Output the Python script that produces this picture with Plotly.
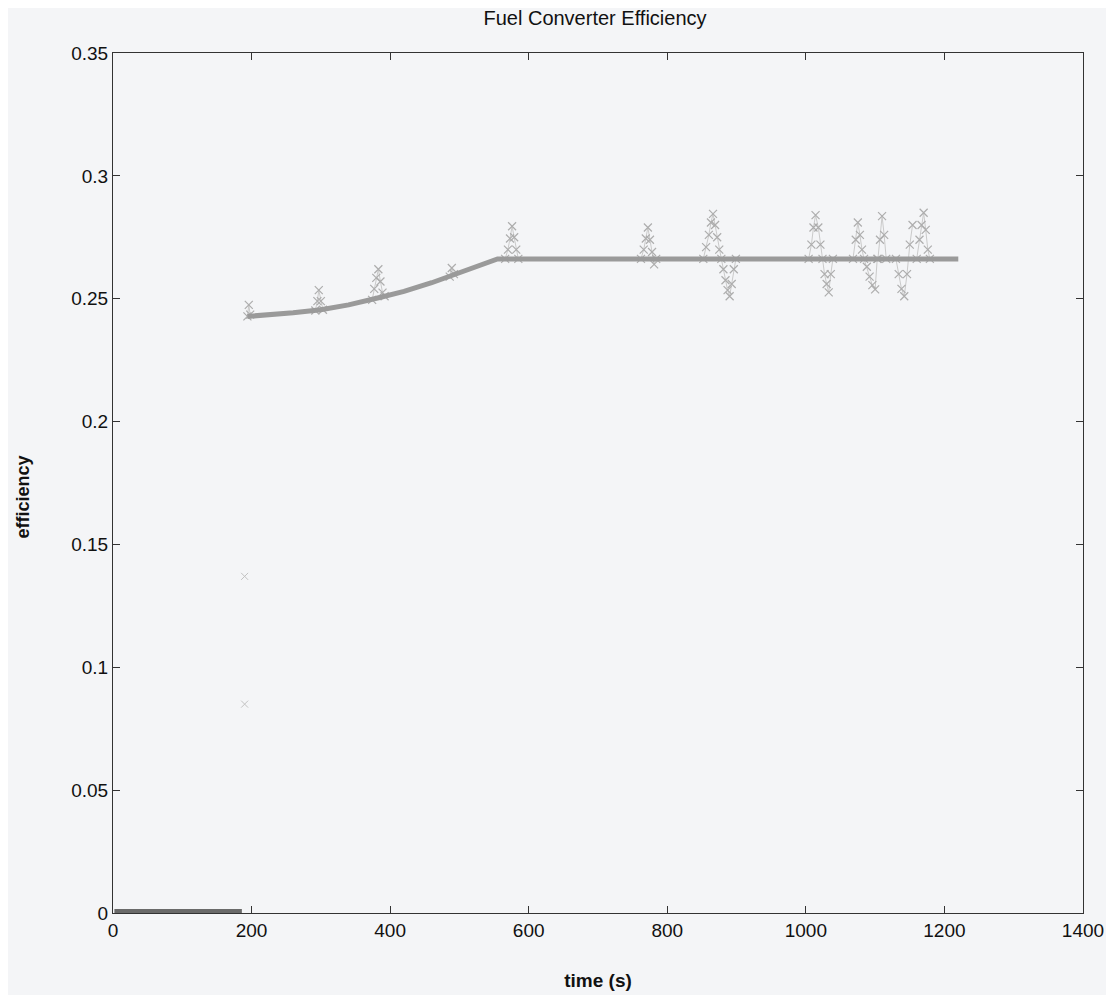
import plotly.graph_objects as go

# ---- data ----
# engine-off segment (efficiency ~ 0)
t_off = [2, 30, 60, 100, 140, 186]
eff_off = [0.0008, 0.0008, 0.0008, 0.0008, 0.0008, 0.0008]

# transition samples at engine start
t_jump = [190, 190]
eff_jump = [0.137, 0.085]

# main efficiency band
t_main = [194, 230, 260, 300, 340, 385, 420, 460, 490, 520, 545, 555,
          600, 700, 800, 900, 1000, 1100, 1150, 1220]
eff_main = [0.2428, 0.2435, 0.2443, 0.2455, 0.2475, 0.2505, 0.2530, 0.2565,
            0.2595, 0.2625, 0.2655, 0.2662,
            0.2662, 0.2662, 0.2662, 0.2662, 0.2662, 0.2662, 0.2662, 0.2662]

# transient spikes (separate bursts, None = gap)
t_spk = [194, 196, 198, None,
         292, 295, 297, 300, 303, None,
         374, 377, 380, 383, 386, 389, 392, None,
         486, 489, 492, None,
         566, 570, 573, 576, 579, 582, 585, None,
         762, 766, 769, 772, 775, 778, 781, 784, None,
         852, 856, 860, 863, 866, 869, 872, 875, 878, 881, 884, 887, 890, 893, 896, 899, None,
         1004, 1008, 1011, 1014, 1018, 1021, 1024, 1027, 1030, 1033, 1036, 1039, None,
         1068, 1072, 1075, 1078, 1081, 1084, 1088, 1092, 1096, 1100, 1103, None,
         1104, 1107, 1110, 1113, 1116, None,
         1130, 1134, 1138, 1142, 1146, 1150, 1154, None,
         1160, 1164, 1167, 1170, 1173, 1176, 1179]
eff_spk = [0.2428, 0.2475, 0.2435, None,
           0.2452, 0.2490, 0.2535, 0.2490, 0.2455, None,
           0.2495, 0.2540, 0.2585, 0.2620, 0.2570, 0.2525, 0.2510, None,
           0.2590, 0.2625, 0.2600, None,
           0.2662, 0.2700, 0.2745, 0.2795, 0.2750, 0.2700, 0.2662, None,
           0.2662, 0.2700, 0.2745, 0.2790, 0.2740, 0.2690, 0.2640, 0.2662, None,
           0.2662, 0.2710, 0.2760, 0.2810, 0.2845, 0.2800, 0.2750, 0.2700, 0.2662, 0.2620, 0.2575, 0.2535, 0.2510, 0.2560, 0.2620, 0.2662, None,
           0.2662, 0.2720, 0.2790, 0.2840, 0.2790, 0.2720, 0.2662, 0.2600, 0.2560, 0.2526, 0.2600, 0.2662, None,
           0.2662, 0.2740, 0.2810, 0.2760, 0.2700, 0.2662, 0.2630, 0.2590, 0.2555, 0.2538, 0.2662, None,
           0.2662, 0.2740, 0.2836, 0.2760, 0.2662, None,
           0.2662, 0.2600, 0.2540, 0.2510, 0.2600, 0.2720, 0.2800, None,
           0.2662, 0.2740, 0.2800, 0.2850, 0.2780, 0.2700, 0.2662]

x_ticks = [0, 200, 400, 600, 800, 1000, 1200, 1400]
y_ticks = [0, 0.05, 0.1, 0.15, 0.2, 0.25, 0.3, 0.35]
y_tick_text = ["0", "0.05", "0.1", "0.15", "0.2", "0.25", "0.3", "0.35"]

FONT = "Liberation Sans, Arial, Helvetica, sans-serif"
BG = "#f4f5f7"
W, H = 1114, 995
L, R, T, B = 105, 39, 45, 90

fig = go.Figure()

fig.add_trace(go.Scatter(
    x=t_spk, y=eff_spk, mode="lines+markers", connectgaps=False,
    line=dict(color="#cacaca", width=1),
    marker=dict(symbol="x-thin-open", size=8, color="#adadad", line=dict(color="#adadad", width=1.2)),
    hoverinfo="skip", showlegend=False))

fig.add_trace(go.Scatter(
    x=t_main, y=eff_main, mode="lines",
    line=dict(color="#9a9a9a", width=5),
    showlegend=False))

fig.add_trace(go.Scatter(
    x=t_off, y=eff_off, mode="lines",
    line=dict(color="#6a6a6a", width=4),
    showlegend=False))

fig.add_trace(go.Scatter(
    x=t_jump, y=eff_jump, mode="markers",
    marker=dict(symbol="x-thin-open", size=7, color="#c2c2c2", line=dict(color="#c2c2c2", width=1)),
    showlegend=False))

axis_common = dict(
    showgrid=False, zeroline=False, showline=True, linecolor="#333333", linewidth=1,
    mirror="ticks", ticks="inside", ticklen=7, tickcolor="#333333",
    tickfont=dict(family=FONT, size=19, color="#111111"),
)

fig.update_layout(
    width=W, height=H,
    margin=dict(l=L, r=R, t=T, b=B),
    paper_bgcolor=BG, plot_bgcolor=BG,
    title=dict(text="Fuel Converter Efficiency", x=587 / W, xanchor="center",
               y=1 - 10 / H, yanchor="middle",
               font=dict(family=FONT, size=20, color="#111111")),
    xaxis=dict(range=[0, 1400], tickvals=x_ticks, ticktext=[str(v) for v in x_ticks],
               title=dict(text="<b>time (s)</b>", font=dict(family=FONT, size=19, color="#111111"),
                          standoff=33),
               **axis_common),
    yaxis=dict(range=[0, 0.35], tickvals=y_ticks, ticktext=y_tick_text, **axis_common),
    annotations=[dict(text="<b>efficiency</b>", xref="paper", yref="paper",
                      x=0, xshift=-90, y=0.483, textangle=-90, showarrow=False,
                      xanchor="center", yanchor="middle",
                      font=dict(family=FONT, size=18, color="#111111"))],
    showlegend=False,
)

fig.write_html("out.html")
